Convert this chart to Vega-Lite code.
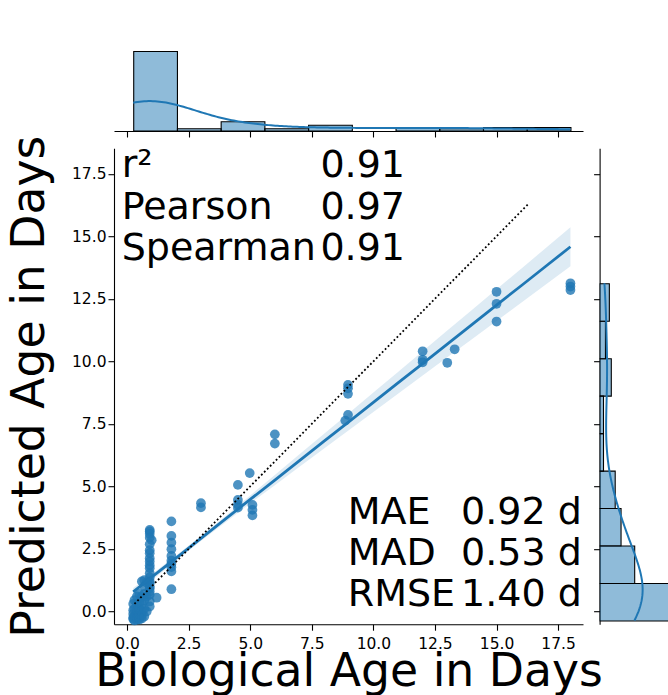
{
  "$schema": "https://vega.github.io/schema/vega-lite/v6.json",
  "autosize": {"type": "pad"},
  "padding": {"left": 6, "top": 50, "right": 0, "bottom": 0},
  "datasets": {
    "points": [
      {"bio": 1.8, "pred": 3.6}, {"bio": 1.8, "pred": 3.02}, {"bio": 1.8, "pred": 2.75}, {"bio": 1.8, "pred": 2.49}, {"bio": 1.8, "pred": 2.22},
      {"bio": 1.8, "pred": 2.03}, {"bio": 1.8, "pred": 1.9}, {"bio": 1.8, "pred": 1.77}, {"bio": 1.8, "pred": 1.6}, {"bio": 1.8, "pred": 0.89},
      {"bio": 0.92, "pred": 3.26}, {"bio": 0.92, "pred": 3.2}, {"bio": 0.92, "pred": 3.1}, {"bio": 0.92, "pred": 2.95}, {"bio": 0.92, "pred": 2.69},
      {"bio": 0.92, "pred": 2.45}, {"bio": 0.92, "pred": 2.33}, {"bio": 0.92, "pred": 2.13}, {"bio": 0.92, "pred": 2.0}, {"bio": 0.92, "pred": 1.85},
      {"bio": 0.92, "pred": 1.73}, {"bio": 0.92, "pred": 1.53}, {"bio": 0.92, "pred": 1.36}, {"bio": 0.92, "pred": 1.2}, {"bio": 0.92, "pred": 1.13},
      {"bio": 0.92, "pred": 0.93}, {"bio": 0.92, "pred": 0.67}, {"bio": 0.92, "pred": 0.4}, {"bio": 0.92, "pred": 0.2}, {"bio": 0.92, "pred": 1.0},
      {"bio": 0.92, "pred": 0.8}, {"bio": 1.0, "pred": 2.85},
      {"bio": 0.25, "pred": -0.3}, {"bio": 0.25, "pred": -0.25}, {"bio": 0.25, "pred": -0.1}, {"bio": 0.25, "pred": 0.05}, {"bio": 0.25, "pred": 0.3},
      {"bio": 0.3, "pred": -0.36}, {"bio": 0.3, "pred": -0.2}, {"bio": 0.3, "pred": 0.1}, {"bio": 0.3, "pred": 0.45},
      {"bio": 0.4, "pred": -0.33}, {"bio": 0.4, "pred": -0.2}, {"bio": 0.4, "pred": -0.1}, {"bio": 0.4, "pred": 0.05}, {"bio": 0.4, "pred": 0.3}, {"bio": 0.4, "pred": 0.6},
      {"bio": 0.5, "pred": -0.32}, {"bio": 0.5, "pred": -0.25}, {"bio": 0.5, "pred": -0.1}, {"bio": 0.5, "pred": 0.1}, {"bio": 0.5, "pred": 0.35}, {"bio": 0.5, "pred": 0.7},
      {"bio": 0.6, "pred": -0.28}, {"bio": 0.6, "pred": -0.15}, {"bio": 0.6, "pred": 0.0}, {"bio": 0.6, "pred": 0.3}, {"bio": 0.6, "pred": 0.6}, {"bio": 0.6, "pred": 1.2},
      {"bio": 0.7, "pred": -0.2}, {"bio": 0.7, "pred": 0.1}, {"bio": 0.7, "pred": 0.45}, {"bio": 0.7, "pred": 0.7}, {"bio": 0.7, "pred": 1.0}, {"bio": 0.7, "pred": 1.25},
      {"bio": 0.8, "pred": 0.0}, {"bio": 0.8, "pred": 0.6}, {"bio": 0.8, "pred": 1.15}, {"bio": 1.2, "pred": 0.55},
      {"bio": 3.0, "pred": 4.33}, {"bio": 3.0, "pred": 4.16},
      {"bio": 4.5, "pred": 5.06}, {"bio": 4.5, "pred": 4.46}, {"bio": 4.5, "pred": 4.27}, {"bio": 4.5, "pred": 4.15},
      {"bio": 4.98, "pred": 5.53}, {"bio": 5.09, "pred": 4.26}, {"bio": 5.09, "pred": 4.06}, {"bio": 5.09, "pred": 3.84},
      {"bio": 6.0, "pred": 7.08}, {"bio": 6.0, "pred": 6.71},
      {"bio": 8.97, "pred": 9.06}, {"bio": 8.97, "pred": 8.92}, {"bio": 8.97, "pred": 8.7}, {"bio": 8.97, "pred": 7.86}, {"bio": 8.86, "pred": 7.63},
      {"bio": 12.0, "pred": 10.4}, {"bio": 12.0, "pred": 10.06}, {"bio": 12.0, "pred": 9.96},
      {"bio": 13.0, "pred": 9.94}, {"bio": 13.3, "pred": 10.48},
      {"bio": 15.0, "pred": 12.78}, {"bio": 15.0, "pred": 12.3}, {"bio": 15.0, "pred": 11.59},
      {"bio": 18.0, "pred": 13.12}, {"bio": 18.0, "pred": 12.99}, {"bio": 18.0, "pred": 12.85}
    ],
    "fit": [
      {"bio": 0.25, "pred": 0.78, "lo": 0.63, "hi": 0.94},
      {"bio": 1, "pred": 1.37, "lo": 1.24, "hi": 1.49},
      {"bio": 2, "pred": 2.14, "lo": 2.04, "hi": 2.25},
      {"bio": 3, "pred": 2.92, "lo": 2.82, "hi": 3.02},
      {"bio": 4, "pred": 3.7, "lo": 3.57, "hi": 3.82},
      {"bio": 5, "pred": 4.48, "lo": 4.32, "hi": 4.64},
      {"bio": 6, "pred": 5.25, "lo": 5.05, "hi": 5.45},
      {"bio": 7, "pred": 6.03, "lo": 5.78, "hi": 6.28},
      {"bio": 8, "pred": 6.81, "lo": 6.51, "hi": 7.1},
      {"bio": 9, "pred": 7.58, "lo": 7.24, "hi": 7.92},
      {"bio": 10, "pred": 8.36, "lo": 7.97, "hi": 8.75},
      {"bio": 11, "pred": 9.14, "lo": 8.7, "hi": 9.57},
      {"bio": 12, "pred": 9.91, "lo": 9.43, "hi": 10.4},
      {"bio": 13, "pred": 10.69, "lo": 10.16, "hi": 11.23},
      {"bio": 14, "pred": 11.47, "lo": 10.88, "hi": 12.05},
      {"bio": 15, "pred": 12.25, "lo": 11.61, "hi": 12.88},
      {"bio": 16, "pred": 13.02, "lo": 12.34, "hi": 13.7},
      {"bio": 17, "pred": 13.8, "lo": 13.07, "hi": 14.53},
      {"bio": 18, "pred": 14.58, "lo": 13.8, "hi": 15.36}
    ],
    "identity": [{"bio": 0.3, "pred": 0.3}, {"bio": 16.3, "pred": 16.3}],
    "stats": [
      {"block": "corr", "labels": ["r²", "Pearson", "Spearman"], "values": ["0.91", "0.97", "0.91"]},
      {"block": "err", "labels": ["MAE", "MAD", "RMSE"], "values": ["0.92 d", "0.53 d", "1.40 d"]}
    ]
  },
  "bounds": "flush",
  "spacing": 17.2,
  "vconcat": [
    {
      "width": 469,
      "height": 81,
      "data": {"name": "points"},
      "layer": [
        {
          "mark": {"type": "bar", "binSpacing": 0, "fill": "#1f77b4", "fillOpacity": 0.5, "stroke": "#000", "strokeWidth": 1.1},
          "encoding": {
            "x": {"field": "bio", "type": "quantitative", "bin": {"extent": [0.25, 18], "step": 1.775, "nice": false},
                  "scale": {"domain": [-0.53, 18.51]},
                  "axis": {"values": [0, 2.5, 5, 7.5, 10, 12.5, 15, 17.5], "labels": false, "title": null}},
            "y": {"aggregate": "count", "type": "quantitative", "scale": {"domain": [0, 70.35]}, "axis": null}
          }
        },
        {
          "transform": [{"density": "bio", "bandwidth": 1.885, "extent": [0.25, 18], "counts": true, "steps": 200}],
          "mark": {"type": "line", "color": "#1f77b4", "strokeWidth": 2},
          "encoding": {
            "x": {"field": "value", "type": "quantitative", "scale": {"domain": [-0.53, 18.51]},
                  "axis": {"values": [0, 2.5, 5, 7.5, 10, 12.5, 15, 17.5], "labels": false, "title": null}},
            "y": {"field": "density", "type": "quantitative", "scale": {"domain": [0, 39.63]}, "axis": null}
          }
        }
      ],
      "resolve": {"scale": {"y": "independent"}}
    },
    {
      "bounds": "flush",
      "spacing": 16.6,
      "hconcat": [
        {
          "width": 469,
          "height": 476,
          "encoding": {
            "x": {"type": "quantitative", "scale": {"domain": [-0.53, 18.51]},
                  "axis": {"title": "Biological Age in Days", "values": [0, 2.5, 5, 7.5, 10, 12.5, 15, 17.5], "format": ".1f", "labelPadding": 6, "titlePadding": -2, "labelFlush": false}},
            "y": {"type": "quantitative", "scale": {"domain": [-0.51, 18.52]},
                  "axis": {"title": "Predicted Age in Days", "values": [0, 2.5, 5, 7.5, 10, 12.5, 15, 17.5], "format": ".1f", "labelPadding": 2, "titlePadding": 18, "labelFlush": false}}
          },
          "layer": [
            {
              "data": {"name": "fit"},
              "mark": {"type": "area", "color": "#1f77b4", "opacity": 0.15},
              "encoding": {
                "x": {"field": "bio"},
                "y": {"field": "lo"},
                "y2": {"field": "hi"}
              }
            },
            {
              "data": {"name": "points"},
              "mark": {"type": "circle", "color": "#1f77b4", "opacity": 0.8, "size": 95},
              "encoding": {
                "x": {"field": "bio"},
                "y": {"field": "pred"}
              }
            },
            {
              "data": {"name": "fit"},
              "mark": {"type": "line", "color": "#1f77b4", "strokeWidth": 2.8},
              "encoding": {
                "x": {"field": "bio"},
                "y": {"field": "pred"}
              }
            },
            {
              "data": {"name": "identity"},
              "mark": {"type": "line", "color": "#000", "strokeWidth": 1.8, "strokeDash": [1.8, 2.4]},
              "encoding": {
                "x": {"field": "bio"},
                "y": {"field": "pred"}
              }
            },
            {
              "data": {"name": "stats"},
              "transform": [{"filter": "datum.block === 'corr'"}],
              "mark": {"type": "text", "align": "left", "baseline": "alphabetic", "fontSize": 38, "lineHeight": 41.3, "color": "#000"},
              "encoding": {
                "x": {"datum": -0.22},
                "y": {"datum": 17.35},
                "text": {"field": "labels", "type": "nominal"}
              }
            },
            {
              "data": {"name": "stats"},
              "transform": [{"filter": "datum.block === 'corr'"}],
              "mark": {"type": "text", "align": "left", "baseline": "alphabetic", "fontSize": 38, "lineHeight": 41.3, "color": "#000"},
              "encoding": {
                "x": {"datum": 7.85},
                "y": {"datum": 17.35},
                "text": {"field": "values", "type": "nominal"}
              }
            },
            {
              "data": {"name": "stats"},
              "transform": [{"filter": "datum.block === 'err'"}],
              "mark": {"type": "text", "align": "left", "baseline": "alphabetic", "fontSize": 38, "lineHeight": 40.9, "color": "#000"},
              "encoding": {
                "x": {"datum": 8.96},
                "y": {"datum": 3.5},
                "text": {"field": "labels", "type": "nominal"}
              }
            },
            {
              "data": {"name": "stats"},
              "transform": [{"filter": "datum.block === 'err'"}],
              "mark": {"type": "text", "align": "left", "baseline": "alphabetic", "fontSize": 38, "lineHeight": 40.9, "color": "#000"},
              "encoding": {
                "x": {"datum": 13.56},
                "y": {"datum": 3.5},
                "text": {"field": "values", "type": "nominal"}
              }
            }
          ]
        },
        {
          "width": 70,
          "height": 476,
          "data": {"name": "points"},
          "layer": [
            {
              "mark": {"type": "bar", "binSpacing": 0, "fill": "#1f77b4", "fillOpacity": 0.5, "stroke": "#000", "strokeWidth": 1.1, "clip": true},
              "encoding": {
                "y": {"field": "pred", "type": "quantitative", "bin": {"extent": [-0.36, 13.12], "step": 1.49778, "nice": false},
                      "scale": {"domain": [-0.51, 18.52]},
                      "axis": {"values": [0, 2.5, 5, 7.5, 10, 12.5, 15, 17.5], "labels": false, "title": null}},
                "x": {"aggregate": "count", "type": "quantitative", "scale": {"domain": [0, 35.9]}, "axis": null}
              }
            },
            {
              "transform": [{"density": "pred", "bandwidth": 1.511, "extent": [-0.36, 13.12], "counts": true, "steps": 200}],
              "mark": {"type": "line", "color": "#1f77b4", "strokeWidth": 2, "clip": true},
              "encoding": {
                "y": {"field": "value", "type": "quantitative", "scale": {"domain": [-0.51, 18.52]},
                      "axis": {"values": [0, 2.5, 5, 7.5, 10, 12.5, 15, 17.5], "labels": false, "title": null}},
                "x": {"field": "density", "type": "quantitative", "scale": {"domain": [0, 23.97]}, "axis": null},
                "order": {"field": "value", "type": "quantitative"}
              }
            }
          ],
          "resolve": {"scale": {"x": "independent"}}
        }
      ]
    }
  ],
  "config": {
    "font": "DejaVu Sans",
    "view": {"stroke": null},
    "axis": {
      "grid": false,
      "domainColor": "#000",
      "domainWidth": 1.1,
      "tickColor": "#000",
      "tickWidth": 1.1,
      "tickSize": 6,
      "labelFont": "DejaVu Sans",
      "labelFontSize": 15.5,
      "labelColor": "#000",
      "titleFont": "DejaVu Sans",
      "titleFontSize": 45.7,
      "titleFontWeight": "normal",
      "titleColor": "#000"
    }
  }
}
